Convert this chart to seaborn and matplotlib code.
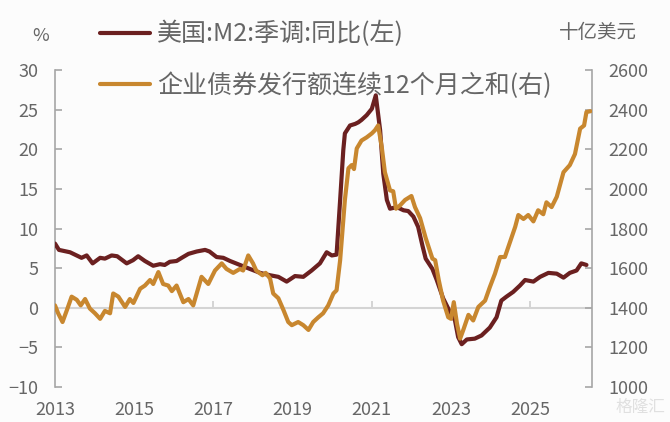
import numpy as np
import pandas as pd
import seaborn as sns
import matplotlib
matplotlib.use("Agg")
import matplotlib.pyplot as plt

# ---- data ----
m2_year = [2013.00, 2013.10, 2013.38, 2013.67, 2013.80, 2013.95, 2014.14, 2014.26, 2014.43, 2014.57,
           2014.81, 2014.97, 2015.10, 2015.27, 2015.48, 2015.65, 2015.77, 2015.90, 2016.07, 2016.20,
           2016.37, 2016.58, 2016.79, 2016.90, 2017.08, 2017.25, 2017.42, 2017.67, 2017.92, 2018.18,
           2018.43, 2018.64, 2018.85, 2019.06, 2019.27, 2019.48, 2019.69, 2019.86, 2019.99, 2020.11,
           2020.20, 2020.28, 2020.32, 2020.45, 2020.58, 2020.66, 2020.74, 2020.87, 2021.00, 2021.10,
           2021.21, 2021.29, 2021.38, 2021.46, 2021.63, 2021.80, 2021.92, 2022.05, 2022.17, 2022.28,
           2022.36, 2022.53, 2022.64, 2022.80, 2022.97, 2023.10, 2023.18, 2023.27, 2023.40, 2023.60,
           2023.77, 2023.98, 2024.15, 2024.27, 2024.40, 2024.57, 2024.74, 2024.87, 2025.08, 2025.25,
           2025.46, 2025.67, 2025.84, 2026.00, 2026.17, 2026.29, 2026.42]
m2_yoy = [8.1, 7.3, 7.0, 6.3, 6.6, 5.6, 6.3, 6.2, 6.6, 6.5,
          5.6, 6.0, 6.5, 5.9, 5.3, 5.5, 5.4, 5.8, 5.9, 6.3,
          6.8, 7.1, 7.3, 7.1, 6.4, 6.3, 5.9, 5.4, 4.9, 4.4,
          4.1, 3.9, 3.3, 4.0, 3.9, 4.7, 5.6, 7.0, 6.6, 6.7,
          13.6, 19.9, 22.0, 23.0, 23.2, 23.4, 23.7, 24.3, 25.1, 26.8,
          22.4, 16.9, 13.6, 12.5, 12.7, 12.3, 12.2, 11.5, 10.2, 7.8,
          6.2, 4.9, 3.5, 1.2, -0.5, -1.6, -3.7, -4.6, -4.0, -3.9,
          -3.5, -2.5, -1.2, 0.9, 1.4, 2.0, 2.8, 3.5, 3.3, 3.9,
          4.4, 4.3, 3.8, 4.4, 4.7, 5.6, 5.4]

bond_year = [2013.00, 2013.08, 2013.19, 2013.30, 2013.42, 2013.55, 2013.65, 2013.76, 2013.88, 2014.01,
             2014.14, 2014.26, 2014.39, 2014.47, 2014.60, 2014.77, 2014.89, 2014.98, 2015.15, 2015.27,
             2015.40, 2015.48, 2015.61, 2015.73, 2015.86, 2015.95, 2016.07, 2016.24, 2016.37, 2016.49,
             2016.70, 2016.87, 2017.04, 2017.21, 2017.33, 2017.50, 2017.67, 2017.75, 2017.88, 2018.00,
             2018.08, 2018.24, 2018.32, 2018.43, 2018.51, 2018.64, 2018.77, 2018.89, 2018.98, 2019.14,
             2019.27, 2019.40, 2019.52, 2019.65, 2019.77, 2019.90, 2020.03, 2020.11, 2020.20, 2020.32,
             2020.41, 2020.49, 2020.55, 2020.62, 2020.74, 2020.87, 2021.00, 2021.08, 2021.16, 2021.25,
             2021.33, 2021.46, 2021.54, 2021.61, 2021.71, 2021.84, 2022.00, 2022.09, 2022.22, 2022.36,
             2022.53, 2022.60, 2022.69, 2022.80, 2022.93, 2023.00, 2023.07, 2023.15, 2023.23, 2023.31,
             2023.44, 2023.56, 2023.69, 2023.86, 2023.98, 2024.11, 2024.24, 2024.36, 2024.49, 2024.62,
             2024.70, 2024.83, 2024.95, 2025.08, 2025.20, 2025.33, 2025.41, 2025.54, 2025.67, 2025.84,
             2026.00, 2026.13, 2026.26, 2026.36, 2026.42, 2026.52]
bond_issuance = [1412, 1372, 1328, 1388, 1456, 1440, 1412, 1444, 1396, 1372,
                 1344, 1384, 1372, 1472, 1456, 1404, 1444, 1424, 1496, 1512,
                 1540, 1520, 1580, 1520, 1512, 1484, 1512, 1428, 1444, 1412,
                 1556, 1520, 1588, 1624, 1596, 1576, 1596, 1588, 1664, 1624,
                 1588, 1564, 1576, 1548, 1472, 1448, 1388, 1328, 1312, 1328,
                 1312, 1288, 1328, 1352, 1372, 1412, 1472, 1488, 1640, 1944,
                 2104, 2120, 2100, 2204, 2244, 2260, 2280, 2296, 2320, 2212,
                 2084, 1992, 1988, 1900, 1916, 1944, 1964, 1908, 1852, 1752,
                 1648, 1640, 1540, 1436, 1352, 1344, 1428, 1320, 1244, 1288,
                 1364, 1336, 1404, 1436, 1504, 1572, 1656, 1656, 1732, 1808,
                 1868, 1848, 1868, 1836, 1892, 1872, 1932, 1908, 1960, 2084,
                 2120, 2176, 2304, 2320, 2388, 2392]

left_ticks = [-10, -5, 0, 5, 10, 15, 20, 25, 30]
right_ticks = [1000, 1200, 1400, 1600, 1800, 2000, 2200, 2400, 2600]
x_labels = [2013, 2015, 2017, 2019, 2021, 2023, 2025]
x_marks = [2017, 2021, 2025]

label_m2 = "美国:M2:季调:同比(左)"
label_bond = "企业债券发行额连续12个月之和(右)"

# ---- style ----
sns.set_theme(style="white")
plt.rcParams['font.family'] = ['Noto Sans CJK SC', 'DejaVu Sans']
plt.rcParams['axes.unicode_minus'] = True

C_M2 = "#6b2020"
C_BOND = "#c8872f"
C_TXT = "#666666"
C_SPINE = "#a6a6a6"
C_ZERO = "#d4d4d4"
BG = "#fcfcfc"

fig = plt.figure(figsize=(6.70, 4.22), dpi=100, facecolor=BG)
ax = fig.add_axes([55/670, 1-387/422, (592-55)/670, (387-70)/422])
ax.set_facecolor(BG)
ax2 = ax.twinx()
ax2.patch.set_visible(False)

# zero line with small upward tick marks
ax.axhline(0, color=C_ZERO, linewidth=1.5, zorder=1)
ax.vlines(x_marks, 0, 0.8, color=C_ZERO, linewidth=1.4, zorder=1)

df_m2 = pd.DataFrame({"year": m2_year, "v": m2_yoy})
df_bond = pd.DataFrame({"year": bond_year, "v": bond_issuance})

sns.lineplot(data=df_m2, x="year", y="v", ax=ax, color=C_M2, linewidth=3.0, zorder=3,
             label=label_m2, legend=False, solid_capstyle="round", solid_joinstyle="round")
sns.lineplot(data=df_bond, x="year", y="v", ax=ax2, color=C_BOND, linewidth=3.0, zorder=3,
             label=label_bond, legend=False, solid_capstyle="round", solid_joinstyle="round")

ax.set_xlim(2013, 2026.56)
ax.set_ylim(-10, 30)
ax2.set_ylim(1000, 2600)
ax.set_yticks(left_ticks)
ax2.set_yticks(right_ticks)
ax.set_xticks(x_labels)
ax.set_xticklabels([str(v) for v in x_labels])
ax.set_xlabel("")
ax.set_ylabel("")
ax2.set_ylabel("")

for a in (ax, ax2):
    for s in ("top", "bottom"):
        a.spines[s].set_visible(False)
ax.spines["right"].set_visible(False)
ax2.spines["left"].set_visible(False)
ax.spines["left"].set_color(C_SPINE)
ax2.spines["right"].set_color(C_SPINE)
ax.spines["left"].set_linewidth(1.2)
ax2.spines["right"].set_linewidth(1.2)

ax.tick_params(axis="y", direction="in", length=5, width=1.2, color=C_SPINE,
               labelcolor=C_TXT, labelsize=13, pad=12, left=True)
ax2.tick_params(axis="y", direction="in", length=5, width=1.2, color=C_SPINE,
                labelcolor=C_TXT, labelsize=13, pad=12, right=True)
ax.tick_params(axis="x", length=0, labelcolor=C_TXT, labelsize=13, pad=10, bottom=True)

# units
fig.text(41/670, 1-36/422, "%", ha="center", va="center", fontsize=13, color=C_TXT)
fig.text(598/670, 1-33/422, "十亿美元", ha="center", va="center", fontsize=14, color=C_TXT)

# legend
h1, l1 = ax.get_legend_handles_labels()
h2, l2 = ax2.get_legend_handles_labels()
leg = fig.legend(h1 + h2, l1 + l2, loc="upper left", bbox_to_anchor=(100/670, 1-21/422),
                 frameon=False, fontsize=18, handlelength=2.0, handletextpad=0.28,
                 labelspacing=1.0, borderpad=0, borderaxespad=0)
for t in leg.get_texts():
    t.set_color(C_TXT)
for line in leg.get_lines():
    line.set_linewidth(3.0)

# watermark
fig.text(665/670, 1-407/422, "格隆汇", ha="right", va="center", fontsize=12, color="#e0e0e0")

fig.savefig("out.png", dpi=100, facecolor=BG)
